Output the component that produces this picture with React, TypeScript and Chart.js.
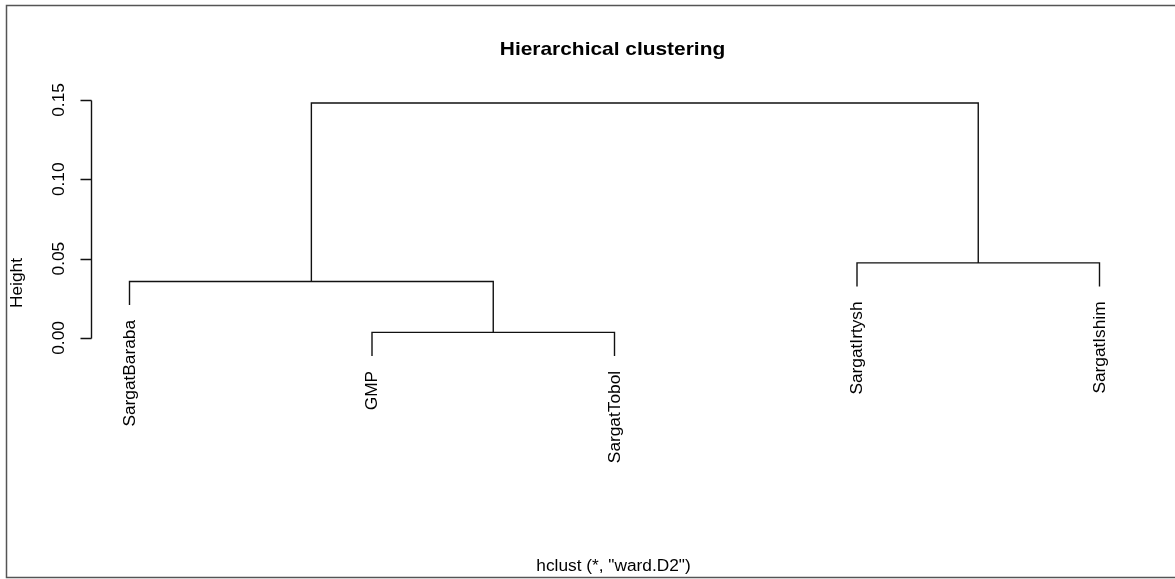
import React, { useEffect, useRef } from "react";
import { Chart, registerables } from "chart.js";

Chart.register(...registerables);

// Leaves in plotting order
const leafLabels = ["SargatBaraba", "GMP", "SargatTobol", "SargatIrtysh", "SargatIshim"];
// Merges (R hclust style: negative = leaf number, positive = earlier merge step)
const mergePairs: [number, number][] = [
  [-2, -3],
  [-1, 1],
  [-4, -5],
  [2, 3],
];
const mergeHeights = [0.0035, 0.0356, 0.0473, 0.1481];
const hangFraction = 0.1;
const yTickValues = [0, 0.05, 0.1, 0.15];
const yTickLabels = ["0.00", "0.05", "0.10", "0.15"];
const titleText = "Hierarchical clustering";
const subText = 'hclust (*, "ward.D2")';
const yLabelText = "Height";

function buildTree() {
  const hang = hangFraction * Math.max(...mergeHeights);
  const mergeX: number[] = [];
  const leafBottom: number[] = new Array(leafLabels.length).fill(0);
  const segments: { x: number; y: number }[][] = [];
  const xOf = (ref: number) => (ref < 0 ? -ref : mergeX[ref - 1]);
  mergePairs.forEach(([l, r], i) => {
    const h = mergeHeights[i];
    const xl = xOf(l);
    const xr = xOf(r);
    const bl = l < 0 ? h - hang : mergeHeights[l - 1];
    const br = r < 0 ? h - hang : mergeHeights[r - 1];
    if (l < 0) leafBottom[-l - 1] = h - hang;
    if (r < 0) leafBottom[-r - 1] = h - hang;
    mergeX.push((xl + xr) / 2);
    segments.push([
      { x: xl, y: bl },
      { x: xl, y: h },
      { x: xr, y: h },
      { x: xr, y: br },
    ]);
  });
  return { segments, leafBottom };
}

const FONT = '"Liberation Sans", Arial, Helvetica, sans-serif';

function drawText(
  ctx: CanvasRenderingContext2D,
  text: string,
  x: number,
  y: number,
  opts: { rotate?: number; align?: CanvasTextAlign; size?: number; bold?: boolean; stretch?: number }
) {
  const { rotate = 0, align = "center", size = 16, bold = false, stretch = 1.08 } = opts;
  ctx.save();
  ctx.translate(x, y);
  ctx.rotate(rotate);
  ctx.scale(stretch, 1);
  ctx.font = `${bold ? "bold " : ""}${size}px ${FONT}`;
  ctx.fillStyle = "#000";
  ctx.textAlign = align;
  ctx.textBaseline = "middle";
  ctx.fillText(text, 0, 0);
  ctx.restore();
}

export default function App() {
  const ref = useRef<HTMLCanvasElement | null>(null);

  useEffect(() => {
    const canvas = ref.current;
    if (!canvas) return;
    const { segments, leafBottom } = buildTree();

    const decor = {
      id: "decor",
      afterDraw(chart: any) {
        const ctx: CanvasRenderingContext2D = chart.ctx;
        const xs = chart.scales.x;
        const ys = chart.scales.y;
        // outer frame
        ctx.save();
        ctx.strokeStyle = "#555";
        ctx.lineWidth = 1.5;
        ctx.beginPath();
        ctx.moveTo(1175, 5.5);
        ctx.lineTo(6.5, 5.5);
        ctx.lineTo(6.5, 577.5);
        ctx.lineTo(1175, 577.5);
        ctx.stroke();
        ctx.restore();

        // y axis
        const ax = Math.round(xs.getPixelForValue(xs.min)) + 0.5;
        const y0 = ys.getPixelForValue(yTickValues[0]);
        const y1 = ys.getPixelForValue(yTickValues[yTickValues.length - 1]);
        ctx.save();
        ctx.strokeStyle = "#111";
        ctx.lineWidth = 1.4;
        ctx.beginPath();
        ctx.moveTo(ax, Math.round(y0) + 0.5);
        ctx.lineTo(ax, Math.round(y1) + 0.5);
        yTickValues.forEach((v) => {
          const py = Math.round(ys.getPixelForValue(v)) + 0.5;
          ctx.moveTo(ax, py);
          ctx.lineTo(ax - 11, py);
        });
        ctx.stroke();
        ctx.restore();
        yTickValues.forEach((v, i) => {
          const py = ys.getPixelForValue(v);
          drawText(ctx, yTickLabels[i], 60, py, { rotate: -Math.PI / 2 });
        });
        drawText(ctx, yLabelText, 18, 283, { rotate: -Math.PI / 2 });

        // leaf labels
        leafLabels.forEach((lab, i) => {
          const px = xs.getPixelForValue(i + 1);
          const py = ys.getPixelForValue(leafBottom[i]) + 15;
          drawText(ctx, lab, px + 1, py, { rotate: -Math.PI / 2, align: "right" });
        });

        // title and subtitle
        const cx = (chart.chartArea.left + chart.chartArea.right) / 2;
        drawText(ctx, titleText, cx - 2, 50, { size: 19, bold: true, stretch: 1.1 });
        drawText(ctx, subText, cx - 1, 567, {});
      },
    };

    const chart = new Chart(canvas, {
      type: "scatter",
      data: {
        datasets: segments.map((pts) => ({
          data: pts,
          showLine: true,
          pointRadius: 0,
          borderColor: "#111",
          borderWidth: 1.4,
          tension: 0,
          fill: false,
        })),
      },
      options: {
        animation: false,
        responsive: false,
        devicePixelRatio: 1,
        events: [],
        plugins: { legend: { display: false }, tooltip: { enabled: false } },
        layout: { padding: { left: 90.7, right: 36.7, top: 84.1, bottom: 114.1 } },
        scales: {
          x: { type: "linear", min: 0.84, max: 5.16, display: false },
          y: { type: "linear", min: -0.08, max: 0.16, display: false },
        },
      },
      plugins: [decor],
    } as any);
    return () => chart.destroy();
  }, []);

  return (
    <canvas
      ref={ref}
      width={1175}
      height={579}
      style={{ position: "fixed", left: 0, top: 0, width: 1175, height: 579, background: "#fff" }}
    />
  );
}
